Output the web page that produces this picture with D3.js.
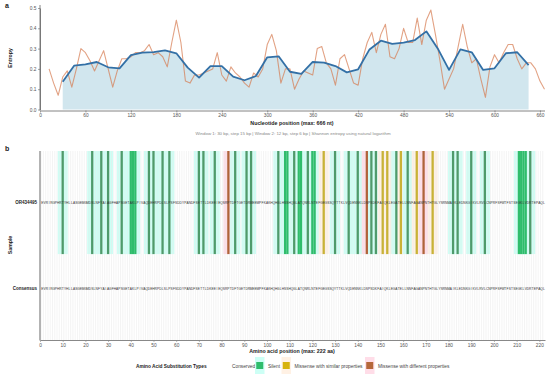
<!DOCTYPE html>
<html><head><meta charset="utf-8">
<script src="https://cdn.jsdelivr.net/npm/d3@7"></script>
<style>body{margin:0;background:#fff} svg{display:block;font-family:"Liberation Sans",Arial,sans-serif}</style>
</head><body><svg id="c" width="550" height="375"></svg>
<script>
// ---------- DATA ----------
const win1Pos = [30,45,60,75,90,105,120,135,150,165,180,195,210,225,240,255,270,285,300,315,330,345,360,375,390,405,420,435,450,465,480,495,510,525,540,555,570,585,600,615,630,645];
const win1Val = [0.137,0.216,0.222,0.234,0.208,0.203,0.268,0.280,0.283,0.291,0.277,0.206,0.157,0.214,0.214,0.162,0.144,0.165,0.257,0.262,0.186,0.176,0.234,0.231,0.214,0.183,0.198,0.296,0.339,0.323,0.329,0.342,0.385,0.301,0.195,0.296,0.282,0.195,0.203,0.277,0.282,0.219];
const win2Pos = [12,18,24,30,36,42,48,54,60,66,72,78,84,90,96,102,108,114,120,126,132,138,144,150,156,162,168,174,180,186,192,198,204,210,216,222,228,234,240,246,252,258,264,270,276,282,288,294,300,306,312,318,324,330,336,342,348,354,360,366,372,378,384,390,396,402,408,414,420,426,432,438,444,450,456,462,468,474,480,486,492,498,504,510,516,522,528,534,540,546,552,558,564,570,576,582,588,594,600,606,612,618,624,630,636,642,648,654,660,666];
const win2Val = [0.20,0.13,0.07,0.16,0.19,0.11,0.20,0.30,0.28,0.24,0.19,0.24,0.29,0.20,0.11,0.19,0.25,0.25,0.26,0.28,0.28,0.29,0.32,0.27,0.28,0.26,0.21,0.33,0.44,0.33,0.14,0.13,0.17,0.17,0.18,0.19,0.20,0.28,0.17,0.14,0.21,0.18,0.16,0.13,0.11,0.18,0.16,0.20,0.32,0.37,0.29,0.13,0.20,0.20,0.10,0.15,0.19,0.18,0.17,0.30,0.31,0.23,0.20,0.12,0.25,0.27,0.20,0.13,0.12,0.25,0.33,0.38,0.28,0.37,0.42,0.26,0.25,0.30,0.40,0.33,0.33,0.45,0.32,0.44,0.49,0.37,0.24,0.10,0.15,0.20,0.31,0.42,0.31,0.23,0.25,0.15,0.06,0.21,0.27,0.23,0.28,0.32,0.32,0.25,0.20,0.23,0.23,0.20,0.14,0.10];
const ntTicks = [0,60,120,180,240,300,360,420,480,540,600,660];
const entropyTicks = [0,0.1,0.2,0.3,0.4,0.5];

const sampleRows = ["OR434495","Consensus"];
const sequence = "EVRIRGPHRTYHLLASGEMGMDSLNFYAIAGFHAPSGETAKLPIVAQDEHRPDLSLPSFSDDYPANDFSETTLDKEEIEQSRPTDFTGETDRMEEMPFKAKHQHGLHSSHQGLATQNRLNTEFGEGSSQYTTKLVQDENNKLDSPSDKFAIQKLEGATELLNNFAGANPNTHTGLYSRNMAIKLEDNKGIKVLRVLCNPRFSFWTFSTSEGKLVDRTEPAQL";
const silentPos = [10,23,27,30,36,40,41,42,48,50,54,57,70,72,77,86,91,93,105,108,109,112,114,115,118,120,121,130,136,140,146,148,157,162,182,184,190,196,211,212,213,214,216];
const similarPos = [125,151,153,159,166,173];
const differentPos = [83,144,169];
const aaTicks = [0,10,20,30,40,50,60,70,80,90,100,110,120,130,140,150,160,170,180,190,200,210,220];
const legendLabels = ["Conserved","Silent","Missense with similar properties","Missense with different properties"];

// ---------- STYLES ----------
const typeStyle = {
  "Conserved": {fill:"#ffffff", halo:"#ffffff"},
  "Silent": {fill:"#2fbd6c", dark:"#4e9b6b", halo:"#cdfff5"},
  "Missense with similar properties": {fill:"#d6b30e", dark:"#c9b236", halo:"#fff1e4"},
  "Missense with different properties": {fill:"#b5673b", dark:"#b0633a", halo:"#ffdde8"}
};

const svg = d3.select("#c");
const TXT = "#555";

// ---------- PANEL A ----------
const xA = d3.scaleLinear().domain([0, 666]).range([40, 544.5]);
const yA = d3.scaleLinear().domain([0, 0.5]).range([109.5, 8]);
const w1 = win1Pos.map((p,i)=>({p, v:win1Val[i]}));
const w2 = win2Pos.map((p,i)=>({p, v:win2Val[i]}));

svg.append("path").datum(w1)
  .attr("d", d3.area().x(d=>xA(d.p)).y0(yA(0)).y1(d=>yA(d.v)))
  .attr("fill","#d1e6ee");
svg.append("path").datum(w2)
  .attr("d", d3.line().x(d=>xA(d.p)).y(d=>yA(d.v)))
  .attr("fill","none").attr("stroke","#d67a50").attr("stroke-opacity",0.7).attr("stroke-width",1.1).attr("stroke-linejoin","round");
svg.append("path").datum(w1)
  .attr("d", d3.line().x(d=>xA(d.p)).y(d=>yA(d.v)))
  .attr("fill","none").attr("stroke","#3370a6").attr("stroke-width",1.8).attr("stroke-linejoin","round");

const axA = svg.append("g").attr("transform","translate(0,110.5)")
  .call(d3.axisBottom(xA).tickValues(ntTicks).tickSize(2).tickSizeOuter(0).tickPadding(1.5));
const ayA = svg.append("g").attr("transform","translate(40,0)")
  .call(d3.axisLeft(yA).tickValues(entropyTicks).tickFormat(d3.format(".1f")).tickSize(2).tickSizeOuter(0).tickPadding(1.5));
[axA, ayA].forEach(g=>{
  g.selectAll("path").attr("stroke","#666").attr("stroke-width",0.8);
  g.selectAll("line").attr("stroke","#666").attr("stroke-width",0.6);
  g.selectAll("text").attr("fill",TXT).attr("font-size",4.8).attr("font-family",'"Liberation Sans",Arial,sans-serif');
});
svg.append("line").attr("x1",40).attr("x2",40).attr("y1",5).attr("y2",110.5).attr("stroke","#666").attr("stroke-width",0.8);

svg.append("text").attr("x",5).attr("y",8).text("a").attr("font-size",7).attr("font-weight","bold").attr("fill","#222");
svg.append("text").attr("transform","translate(12,58) rotate(-90)").attr("text-anchor","middle")
  .text("Entropy").attr("font-size",5.2).attr("font-weight","bold").attr("fill","#222");
svg.append("text").attr("x",292).attr("y",124.8).attr("text-anchor","middle")
  .text("Nucleotide position (max: 666 nt)").attr("font-size",5.3).attr("font-weight","bold").attr("fill","#222");
svg.append("text").attr("x",293).attr("y",134.6).attr("text-anchor","middle")
  .text("Window 1: 30 bp, step 15 bp | Window 2: 12 bp, step 6 bp | Shannon entropy using natural logarithm")
  .attr("font-size",4.4).attr("fill","#888");

// ---------- PANEL B ----------
const xB = d3.scaleLinear().domain([0, 222.5]).range([40, 545]);
const yB = d3.scalePoint().domain(sampleRows).range([151, 340]).padding(0.6);
const step = yB.step();
const halfH = 0.6*step;

const typeOf = p => silentPos.includes(p) ? "Silent" : similarPos.includes(p) ? "Missense with similar properties" : differentPos.includes(p) ? "Missense with different properties" : "Conserved";
const cells = sequence.split("").map((aa,i)=>({pos:i+1, aa, type:typeOf(i+1)}));
const subs = cells.filter(c=>c.type!=="Conserved");
const yS = yB("OR434495");

// halos
svg.append("g").selectAll("rect").data(subs).join("rect")
  .attr("x", d=>xB(d.pos-2.2)).attr("width", xB(4.4)-xB(0))
  .attr("y", yS-halfH).attr("height", 2*halfH)
  .attr("fill", d=>typeStyle[d.type].halo);

// faint per-position cell outlines (both rows)
sampleRows.forEach(r=>{
  const top = r==="OR434495" ? yS-halfH : yB(r)-(step-halfH);
  const bot = r==="OR434495" ? yS+halfH : 340;
  svg.append("g").selectAll("line").data(cells).join("line")
    .attr("x1", d=>xB(d.pos-0.5)).attr("x2", d=>xB(d.pos-0.5))
    .attr("y1", top).attr("y2", bot)
    .attr("stroke","#e9e9e9").attr("stroke-width",0.5);
});

// cores
const isRun = d => d.type==="Silent" && (silentPos.includes(d.pos-1) || silentPos.includes(d.pos+1));
svg.append("g").selectAll("rect").data(subs).join("rect")
  .attr("x", d=>xB(d.pos-0.5)).attr("width", xB(1)-xB(0))
  .attr("y", yS-halfH).attr("height", 2*halfH)
  .attr("fill", d=> isRun(d) ? typeStyle[d.type].fill : typeStyle[d.type].dark);

// sequence letters
sampleRows.forEach(r=>{
  svg.append("g").selectAll("text").data(cells).join("text")
    .attr("x", d=>xB(d.pos)).attr("y", yB(r)+1.2)
    .attr("text-anchor","middle").attr("font-size",3.2).attr("fill","#333")
    .text(d=>d.aa);
});

// axes b
const axB = svg.append("g").attr("transform","translate(0,340)")
  .call(d3.axisBottom(xB).tickValues(aaTicks).tickSize(2).tickSizeOuter(0).tickPadding(1.5));
axB.selectAll("path").attr("stroke","#888").attr("stroke-width",1);
axB.selectAll("line").attr("stroke","#888").attr("stroke-width",0.6);
axB.selectAll("text").attr("fill",TXT).attr("font-size",4.8);
svg.append("line").attr("x1",40).attr("x2",40).attr("y1",151).attr("y2",340.5).attr("stroke","#a0a0a0").attr("stroke-width",1.6);
svg.append("g").selectAll("text").data(sampleRows).join("text")
  .attr("x",37).attr("y",d=>yB(d)+1.6).attr("text-anchor","end")
  .attr("font-size",4.5).attr("font-weight","bold").attr("fill","#222").text(d=>d);

svg.append("text").attr("x",5).attr("y",151).text("b").attr("font-size",7).attr("font-weight","bold").attr("fill","#222");
svg.append("text").attr("transform","translate(12,245) rotate(-90)").attr("text-anchor","middle")
  .text("Sample").attr("font-size",5.2).attr("font-weight","bold").attr("fill","#222");
svg.append("text").attr("x",292).attr("y",352.8).attr("text-anchor","middle")
  .text("Amino acid position (max: 222 aa)").attr("font-size",5.3).attr("font-weight","bold").attr("fill","#222");

// legend
svg.append("text").attr("x",136).attr("y",368.3).text("Amino Acid Substitution Types")
  .attr("font-size",4.8).attr("font-weight","bold").attr("fill","#222");
const legX = {"Conserved":219, "Silent":255, "Missense with similar properties":281.5, "Missense with different properties":365};
const lg = svg.append("g").selectAll("g").data(legendLabels).join("g")
  .attr("transform", d=>`translate(${legX[d]},357)`);
lg.append("rect").attr("width",9.5).attr("height",17).attr("fill",d=>typeStyle[d].halo);
lg.append("rect").attr("x",1.25).attr("y",5).attr("width",7).attr("height",7).attr("fill",d=>typeStyle[d].fill);
lg.append("text").attr("x",13).attr("y",11.2).attr("font-size",4.8).attr("fill","#444").text(d=>d);
</script>
</body></html>
